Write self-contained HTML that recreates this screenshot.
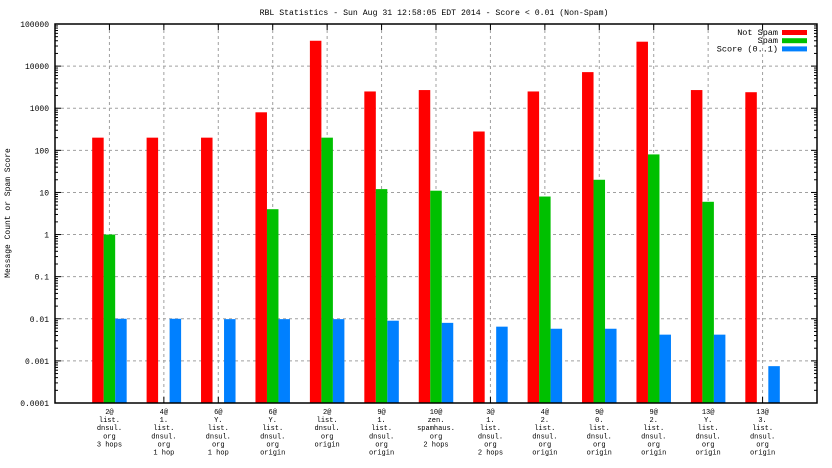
<!DOCTYPE html>
<html><head><meta charset="utf-8"><style>
body{margin:0;background:#fff;}
svg{display:block;font-family:"Liberation Mono",monospace;font-size:8px;}
</style></head><body>
<svg id="chart" width="832" height="468"></svg>
<script>
const categories=[["2@","list.","dnsul.","org","3 hops"],["4@","1.","list.","dnsul.","org","1 hop"],["6@","Y.","list.","dnsul.","org","1 hop"],["6@","Y.","list.","dnsul.","org","origin"],["2@","list.","dnsul.","org","origin"],["9@","1.","list.","dnsul.","org","origin"],["10@","zen.","spamhaus.","org","2 hops"],["3@","1.","list.","dnsul.","org","2 hops"],["4@","2.","list.","dnsul.","org","origin"],["9@","0.","list.","dnsul.","org","origin"],["9@","2.","list.","dnsul.","org","origin"],["13@","Y.","list.","dnsul.","org","origin"],["13@","3.","list.","dnsul.","org","origin"]];
const notSpam=[200,200,200,800,40000,2500,2700,280,2500,7200,38000,2700,2400];
const spam=[1,null,null,4,200,12,11,null,8,20,80,6,null];
const score=[0.01,0.01,0.0098,0.0098,0.0098,0.009,0.008,0.0065,0.0058,0.0058,0.0042,0.0042,0.00075];
const yTicks=[0.0001,0.001,0.01,0.1,1,10,100,1000,10000,100000];
const yTickLabels=["0.0001","0.001","0.01","0.1","1","10","100","1000","10000","100000"];
const seriesNames=["Not Spam","Spam","Score (0..1)"];
const colors=["#ff0000","#00c000","#0080ff"];
const L=55,R=817,T=24,B=403;
const svg=document.getElementById('chart');
const NS="http://www.w3.org/2000/svg";
function y(v){return B-(Math.log10(v)+4)/9*(B-T);}
function x(i){return L+(R-L)/(categories.length+1)*(i+1);}
function el(t,a,p){const e=document.createElementNS(NS,t);for(const k in a)e.setAttribute(k,a[k]);(p||svg).appendChild(e);return e;}
function txt(s,a){const e=el('text',a);e.textContent=s;return e;}
const t=txt("RBL Statistics - Sun Aug 31 12:58:05 EDT 2014 - Score < 0.01 (Non-Spam)",{x:(L+R)/2-2,y:15,'text-anchor':'middle','font-size':'8.2px'});

const yt=txt("Message Count or Spam Score",{transform:"translate(10,213) rotate(-90)",'text-anchor':'middle'});

yTicks.forEach((v,k)=>{const yy=y(v);
 if(k>0&&k<yTicks.length-1){const g=el('line',{x1:L,x2:R,y1:yy,y2:yy,stroke:'#a0a0a0','stroke-dasharray':'3,3'});}
 const lb=txt(yTickLabels[k],{x:L-6,y:yy+3,'text-anchor':'end'});
 el('line',{x1:L,x2:L+6,y1:yy,y2:yy,stroke:'#000'});el('line',{x1:R,x2:R-6,y1:yy,y2:yy,stroke:'#000'});
 if(k<yTicks.length-1)for(let m=2;m<10;m++){const my=y(v*m);el('line',{x1:L,x2:L+3,y1:my,y2:my,stroke:'#000'});el('line',{x1:R,x2:R-3,y1:my,y2:my,stroke:'#000'});}
});
categories.forEach((c,i)=>{const cx=x(i);
 const g=el('line',{x1:cx,x2:cx,y1:T,y2:B,stroke:'#a0a0a0','stroke-dasharray':'3,3'});
 el('line',{x1:cx,x2:cx,y1:T,y2:T+6,stroke:'#000'});el('line',{x1:cx,x2:cx,y1:B,y2:B-6,stroke:'#000'});
 c.forEach((s,j)=>{const l=txt(s,{x:cx,y:B+11+j*8.1,'text-anchor':'middle','font-size':'7px'});});
 const bw=11.5;
 [notSpam,spam,score].forEach((arr,s)=>{const v=arr[i];if(v==null)return;const yy=y(v);
  const r=el('rect',{x:cx-bw*1.5+s*bw,y:yy,width:bw,height:B-yy,fill:colors[s]});
  });
});
const fr=el('rect',{x:L,y:T,width:R-L,height:B-T,fill:'none',stroke:'#000','stroke-width':1.5});

seriesNames.forEach((n,s)=>{const ly=35+s*8.2;
 const lt=txt(n,{x:778,y:ly,'text-anchor':'end','font-size':'8.5px'});
 const lr=el('rect',{x:782,y:ly-5,width:25,height:5,fill:colors[s]});});
</script>
</body></html>
